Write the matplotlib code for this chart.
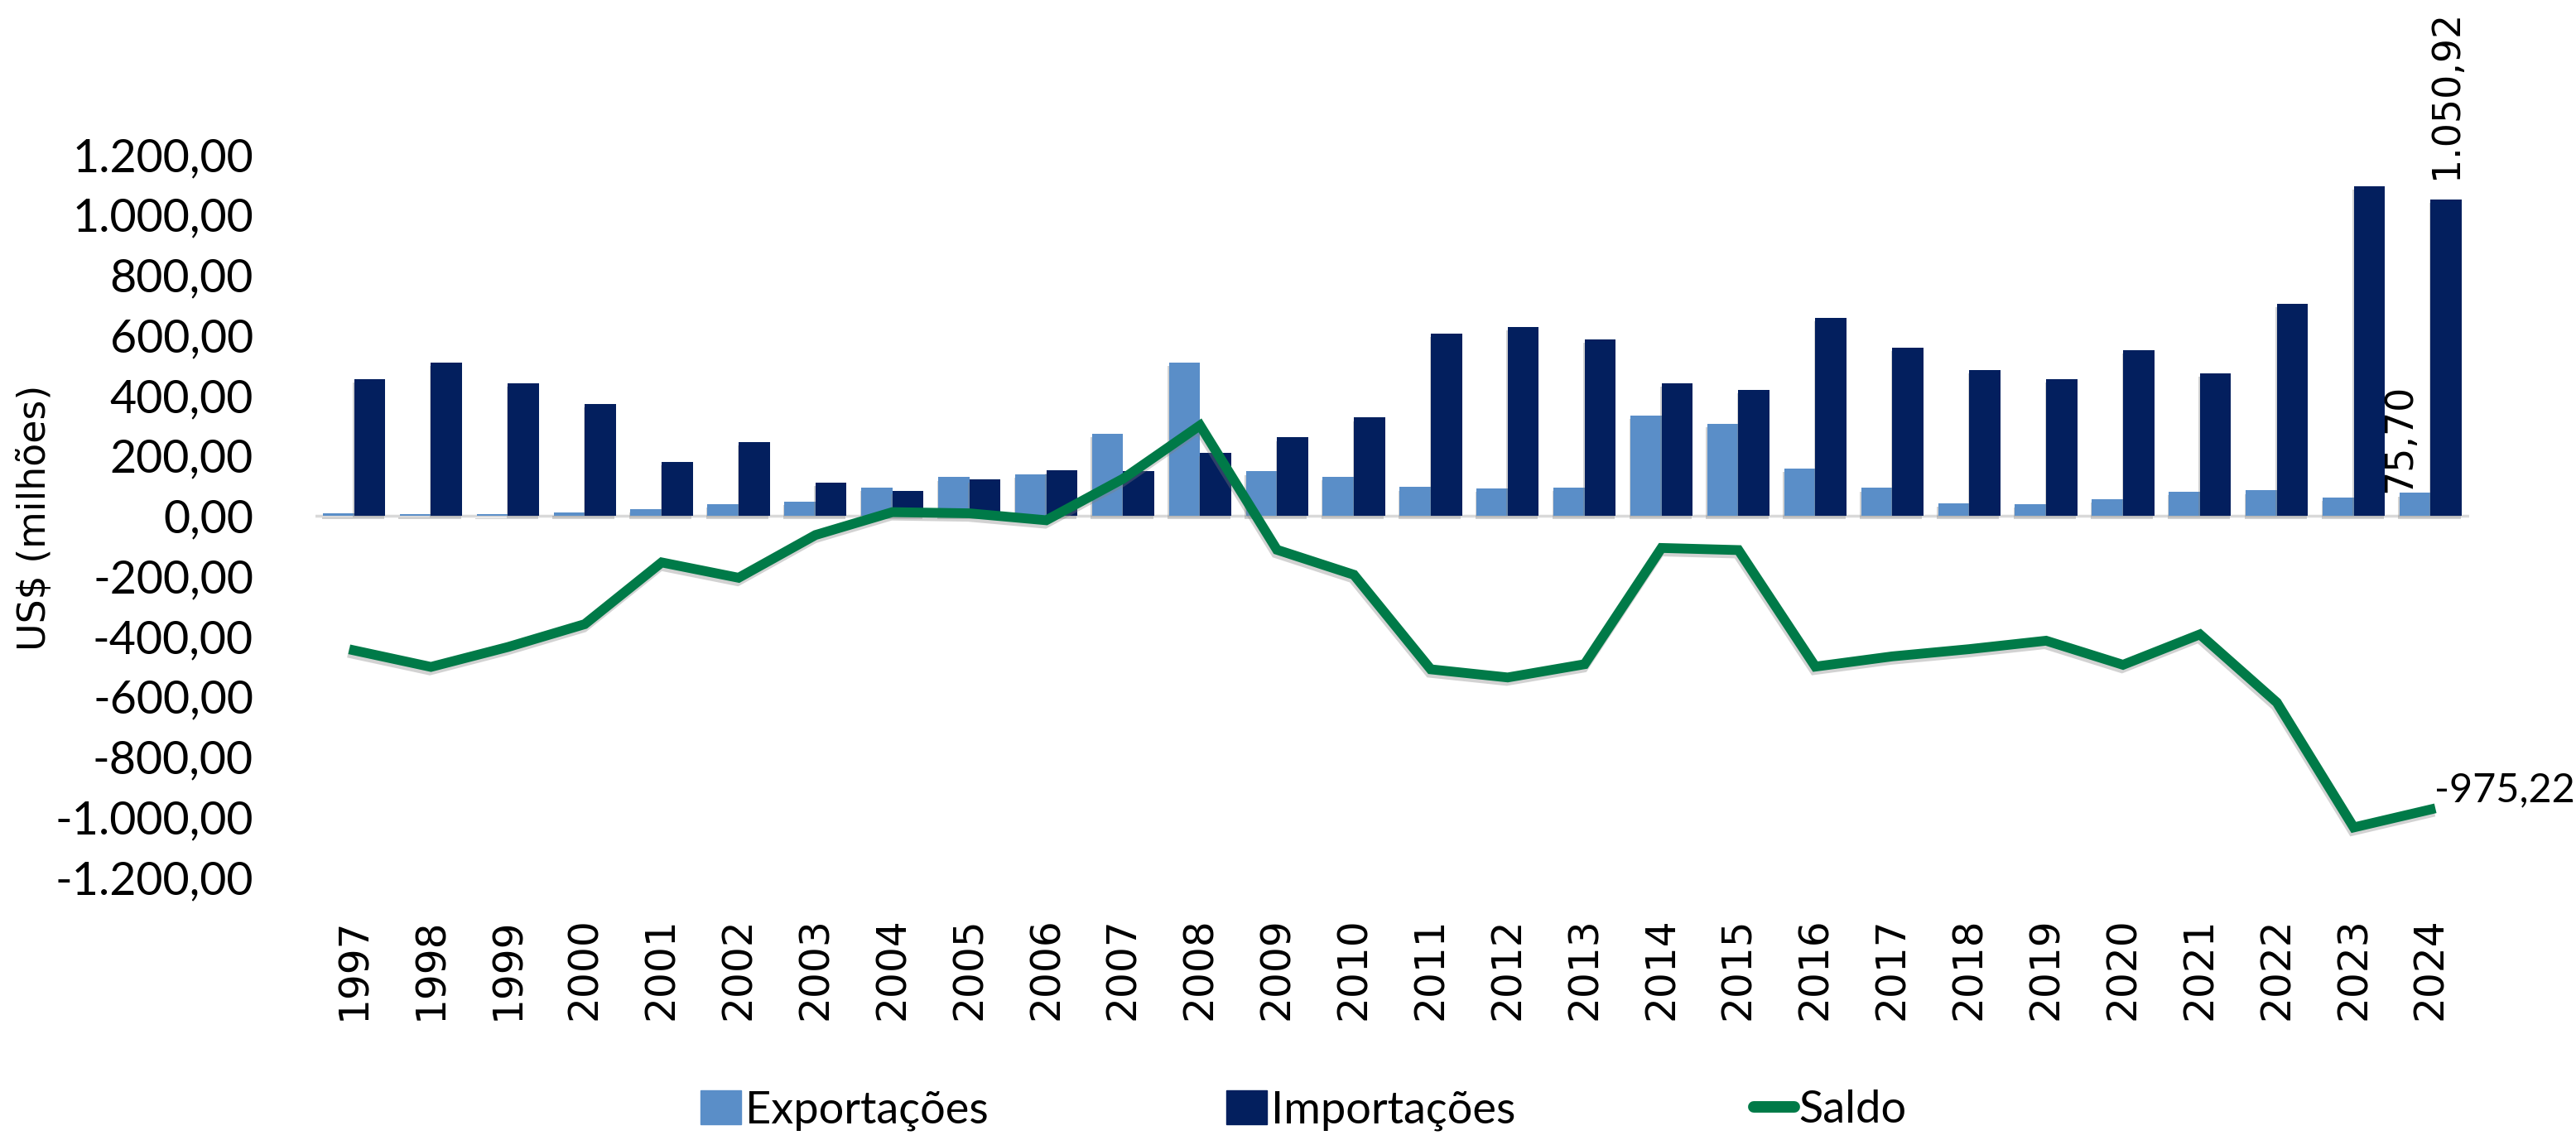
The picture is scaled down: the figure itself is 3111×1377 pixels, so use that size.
import matplotlib
matplotlib.use("Agg")
import matplotlib.pyplot as plt
import matplotlib.patheffects as pe
from matplotlib.ticker import FixedLocator, FuncFormatter
from matplotlib.patches import Patch
from matplotlib.lines import Line2D
import numpy as np

# -----------------------------------------------------------------------
# Data (US$ milhões)
# -----------------------------------------------------------------------
years = ["1997", "1998", "1999", "2000", "2001", "2002", "2003", "2004",
         "2005", "2006", "2007", "2008", "2009", "2010", "2011", "2012",
         "2013", "2014", "2015", "2016", "2017", "2018", "2019", "2020",
         "2021", "2022", "2023", "2024"]
exportacoes = [7, 6, 4, 12, 23, 39, 47, 94, 128, 137, 272, 509, 147, 130,
               95, 91, 93, 332, 305, 156, 92, 41, 38, 54, 79, 84, 60, 75.70]
importacoes = [454, 508, 440, 372, 178, 245, 111, 82, 120, 152, 149, 209,
               260, 326, 605, 628, 586, 439, 419, 657, 559, 484, 453, 549,
               473, 704, 1095, 1050.92]
saldo = [-447, -502, -436, -360, -155, -206, -64, 12, 8, -15, 123, 300,
         -113, -196, -510, -537, -493, -107, -114, -501, -467, -443, -415,
         -495, -394, -620, -1035, -975.22]
y_ticks = [-1200, -1000, -800, -600, -400, -200, 0, 200, 400, 600, 800,
           1000, 1200]

C_EXP = "#5A8EC8"
C_IMP = "#031F5E"
C_SALDO = "#007A48"
NARROW = ["Lato", "DejaVu Sans"]
WIDE = ["DejaVu Sans"]


def br(v):
    """Brazilian number format: 1.050,92"""
    s = f"{v:,.2f}"
    return s.replace(",", "X").replace(".", ",").replace("X", ".")


fig = plt.figure(figsize=(31.11, 13.77), dpi=100)
ax = fig.add_axes([0.1225, 0.2306, 0.836, 0.634])

x = np.arange(len(years))
w = 0.405
shadow = [pe.SimplePatchShadow(offset=(-1, -3), shadow_rgbFace="gray", alpha=0.35), pe.Normal()]

b_exp = ax.bar(x - w / 2, exportacoes, width=w, color=C_EXP, zorder=2)
b_imp = ax.bar(x + w / 2, importacoes, width=w, color=C_IMP, zorder=2)
for b in list(b_exp) + list(b_imp):
    b.set_path_effects(shadow)

ax.axhline(0, color="#D9D9D9", linewidth=2.5, zorder=1)

ax.plot(x, saldo, color=C_SALDO, linewidth=8.5, zorder=3,
        solid_joinstyle="miter",
        path_effects=[pe.SimpleLineShadow(offset=(-1, -3), shadow_color="gray", alpha=0.35), pe.Normal()])

# Data labels for 2024
i = len(years) - 1
ax.annotate(br(importacoes[i]), (x[i] + w / 2, importacoes[i]),
            xytext=(0, 18), textcoords="offset points", rotation=90,
            ha="center", va="bottom", fontsize=33, family=WIDE)
ax.annotate(br(exportacoes[i]), (x[i] - w / 2, exportacoes[i]),
            xytext=(-13, 0), textcoords="offset points", rotation=90,
            ha="center", va="bottom", fontsize=33, family=WIDE)
ax.annotate(br(saldo[i]), (x[i], saldo[i]),
            xytext=(3, 17), textcoords="offset points",
            ha="left", va="center", fontsize=35, family=NARROW)

ax.set_xlim(-0.5, len(years) - 0.5)
ax.set_ylim(-1200, 1200)
ax.yaxis.set_major_locator(FixedLocator(y_ticks))
ax.yaxis.set_major_formatter(FuncFormatter(lambda v, p: br(v)))
ax.set_xticks(x)
ax.set_xticklabels(years, rotation=90)

for s in ax.spines.values():
    s.set_visible(False)
ax.tick_params(axis="both", length=0)
ax.tick_params(axis="y", pad=54, labelsize=40)
ax.tick_params(axis="x", pad=35, labelsize=35)
for lab in ax.get_yticklabels():
    lab.set_family(NARROW)
for lab in ax.get_xticklabels():
    lab.set_family(WIDE)

fig.text(0.0138, 0.546, "US$ (milhões)", rotation=90, ha="center",
         va="center", fontsize=33, family=WIDE)

handles = [Patch(color=C_EXP), Patch(color=C_IMP),
           Line2D([0], [0], color=C_SALDO, linewidth=10, solid_capstyle="round")]
fig.legend(handles, ["Exportações", "Importações", "Saldo"],
           loc="center", bbox_to_anchor=(0.506, 0.026), ncol=3,
           frameon=False, handlelength=0.9, handleheight=0.8,
           handletextpad=0.1, columnspacing=5.3,
           prop={"family": NARROW, "size": 39})

fig.savefig("out.png", dpi=100)
